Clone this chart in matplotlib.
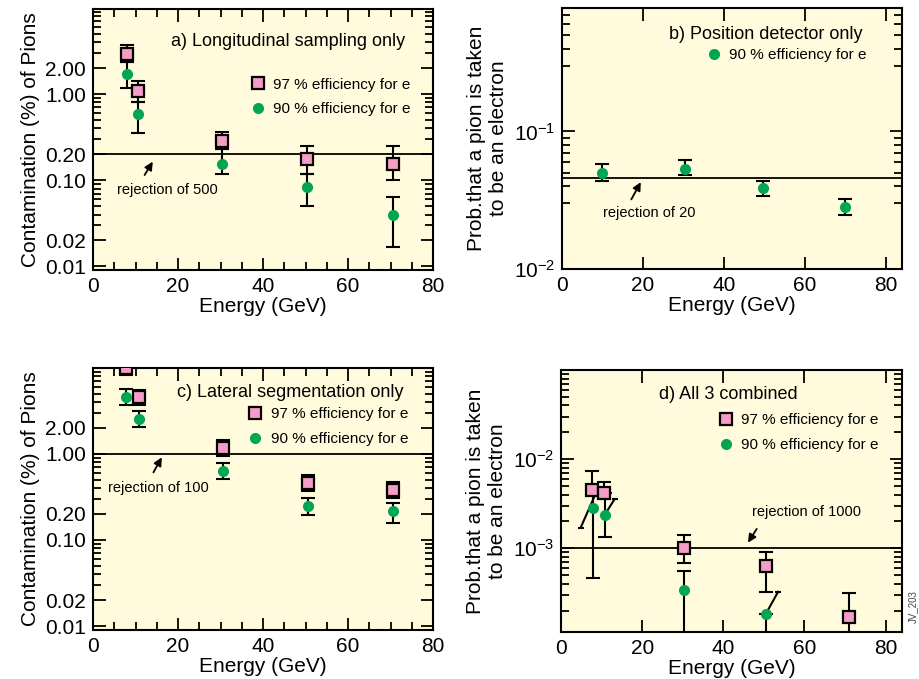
import matplotlib
matplotlib.use("Agg")
import matplotlib.pyplot as plt
from matplotlib.ticker import FixedLocator, FixedFormatter, NullFormatter
from matplotlib.lines import Line2D

plt.rcParams['font.family'] = ['Liberation Sans', 'DejaVu Sans']
plt.rcParams['mathtext.default'] = 'regular'

BG = '#FFFBDC'
PINK = '#F59DC6'
GREEN = '#00A651'

# a) longitudinal sampling only (contamination in %)
a_x = [8.0, 10.7, 30.4, 50.4, 70.6]
a_sq = [2.9, 1.08, 0.284, 0.175, 0.154]
a_sq_hi = [3.7, 1.42, 0.36, 0.25, 0.25]
a_sq_lo = [2.35, 0.81, 0.23, 0.117, 0.10]
a_ci = [1.71, 0.585, 0.154, 0.083, 0.040]
a_ci_hi = [2.35, 0.81, 0.23, 0.117, 0.064]
a_ci_lo = [1.17, 0.35, 0.117, 0.050, 0.0166]
a_line = 0.2

# b) position detector only (probability)
b_x = [10.0, 30.4, 49.6, 70.0]
b_ci = [0.0498, 0.0536, 0.0385, 0.0282]
b_ci_hi = [0.058, 0.0616, 0.044, 0.0323]
b_ci_lo = [0.044, 0.048, 0.034, 0.0248]
b_line = 0.046

# c) lateral segmentation only (contamination in %)
c_x = [7.8, 10.9, 30.5, 50.6, 70.6]
c_sq = [10.0, 4.56, 1.16, 0.456, 0.375]
c_sq_hi = [10.0, 5.55, 1.45, 0.57, 0.464]
c_sq_lo = [8.3, 3.71, 0.95, 0.365, 0.305]
c_ci = [4.56, 2.55, 0.634, 0.248, 0.215]
c_ci_hi = [5.65, 3.16, 0.78, 0.305, 0.267]
c_ci_lo = [3.65, 2.02, 0.507, 0.195, 0.159]
c_line = 1.0

# d) all 3 combined (probability)
d_sq_x = [7.6, 10.7, 30.4, 50.5, 71.0]
d_sq = [0.0045, 0.0042, 0.001, 0.000638, 0.00017]
d_sq_hi = [0.0074, 0.0055, 0.00142, 0.0009, 0.000317]
d_sq_lo = [0.0045, 0.0042, 0.000676, 0.000325, 0.00009]
d_ci_x = [7.8, 10.8, 30.4, 50.5]
d_ci = [0.0028, 0.00238, 0.000337, 0.000181]
d_ci_hi = [0.0045, 0.0042, 0.000559, 0.000181]
d_ci_lo = [0.00046, 0.00135, 0.00009, 0.00009]
d_line = 0.001
# slanted bars drawn in the original
d_seg_x0 = [8.55, 10.76, 50.4]
d_seg_y0 = [0.0041, 0.00237, 0.000181]
d_seg_x1 = [4.85, 13.2, 53.5]
d_seg_y1 = [0.0017, 0.00355, 0.000325]

fig = plt.figure(figsize=(9.19, 6.79), dpi=100)
axa = fig.add_axes([0.1012, 0.6024, 0.370, 0.3843])
axb = fig.add_axes([0.6115, 0.6038, 0.370, 0.3844])
axc = fig.add_axes([0.1012, 0.0722, 0.370, 0.3858])
axd = fig.add_axes([0.6104, 0.0692, 0.371, 0.3859])

eb = dict(ls='none', ecolor='black', elinewidth=1.5, capsize=5, capthick=1.5)
sq_style = dict(marker='s', ms=8.5, mfc=PINK, mec='black', mew=1.6)
ci_style = dict(marker='o', ms=8, mfc=GREEN, mec=GREEN, mew=0)


def err(v, lo, hi):
    return [[a - b for a, b in zip(v, lo)], [b - a for a, b in zip(v, hi)]]


def style(ax, ylim):
    ax.set_facecolor(BG)
    ax.set_yscale('log')
    ax.set_ylim(*ylim)
    for s in ax.spines.values():
        s.set_linewidth(1.5)
    ax.tick_params(which='both', direction='in', top=True, right=True,
                   labelsize=15, width=1.3, pad=5)
    ax.tick_params(which='major', length=9)
    ax.tick_params(which='minor', length=6)
    ax.set_xlabel('Energy (GeV)', fontsize=15, labelpad=1)


def contam_axis(ax):
    ax.set_xlim(0, 80)
    ax.xaxis.set_major_locator(FixedLocator([0, 20, 40, 60, 80]))
    ax.xaxis.set_minor_locator(FixedLocator(range(5, 80, 5)))
    ax.yaxis.set_major_locator(FixedLocator([0.01, 0.02, 0.1, 0.2, 1, 2]))
    ax.yaxis.set_major_formatter(FixedFormatter(['0.01', '0.02', '0.10', '0.20', '1.00', '2.00']))
    minors = [m * 10.0 ** e for e in (-2, -1, 0) for m in range(2, 10)]
    minors = [v for v in minors if round(v, 6) not in (0.02, 0.2, 2.0)]
    ax.yaxis.set_minor_locator(FixedLocator(minors))
    ax.yaxis.set_minor_formatter(NullFormatter())
    ax.set_ylabel('Contamination (%) of Pions', fontsize=15, labelpad=4)


def prob_axis(ax, majors, labels):
    ax.set_xlim(0, 84)
    ax.xaxis.set_major_locator(FixedLocator([0, 20, 40, 60, 80]))
    ax.xaxis.set_minor_locator(FixedLocator([]))
    ax.yaxis.set_major_locator(FixedLocator(majors))
    ax.yaxis.set_major_formatter(FixedFormatter(labels))
    ax.yaxis.set_minor_formatter(NullFormatter())
    ax.set_ylabel('Prob.that a pion is taken\nto be an electron', fontsize=15, labelpad=4)


def legend(ax, x, y, both=True):
    h = []
    if both:
        h.append(Line2D([], [], ls='none', **sq_style))
    h.append(Line2D([], [], ls='none', **ci_style))
    labs = (['97 % efficiency for e'] if both else []) + ['90 % efficiency for e']
    ax.legend(h, labs, loc='upper left', bbox_to_anchor=(x, y), frameon=False,
              fontsize=11, handlelength=1.0, handletextpad=0.5,
              labelspacing=0.7, borderpad=0, borderaxespad=0)


def arrow(ax, head, tail):
    ax.annotate('', xy=head, xytext=tail,
                arrowprops=dict(arrowstyle='-|>', color='black', lw=1.3, mutation_scale=12))


# panel a
style(axa, (0.0091, 9.7))
contam_axis(axa)
axa.axhline(a_line, color='black', lw=1.3)
axa.errorbar(a_x, a_sq, yerr=err(a_sq, a_sq_lo, a_sq_hi), zorder=3, **eb)
axa.errorbar(a_x, a_ci, yerr=err(a_ci, a_ci_lo, a_ci_hi), zorder=3, **eb)
axa.plot(a_x, a_sq, ls='none', zorder=4, **sq_style)
axa.plot(a_x, a_ci, ls='none', zorder=4, **ci_style)
axa.text(0.918, 0.874, 'a) Longitudinal sampling only', transform=axa.transAxes,
         ha='right', va='center', fontsize=13)
legend(axa, 0.462, 0.737)
arrow(axa, (14.4, 0.175), (11.8, 0.108))
axa.text(17.4, 0.0766, 'rejection of 500', ha='center', va='center', fontsize=10.5)

# panel b
style(axb, (0.01, 0.79))
prob_axis(axb, [0.01, 0.1], ['$10^{-2}$', '$10^{-1}$'])
axb.yaxis.set_minor_locator(FixedLocator([0.03, 0.04, 0.05, 0.06, 0.07, 0.08, 0.09,
                                          0.3, 0.4, 0.5, 0.6, 0.7]))
axb.axhline(b_line, color='black', lw=1.3)
axb.errorbar(b_x, b_ci, yerr=err(b_ci, b_ci_lo, b_ci_hi), zorder=3, **eb)
axb.plot(b_x, b_ci, ls='none', zorder=4, **ci_style)
axb.text(0.885, 0.90, 'b) Position detector only', transform=axb.transAxes,
         ha='right', va='center', fontsize=13)
legend(axb, 0.425, 0.847, both=False)
arrow(axb, (19.8, 0.0446), (16.8, 0.0308))
axb.text(21.6, 0.0257, 'rejection of 20', ha='center', va='center', fontsize=10.5)

# panel c
style(axc, (0.009, 9.9))
contam_axis(axc)
axc.axhline(c_line, color='black', lw=1.3)
axc.errorbar(c_x, c_sq, yerr=err(c_sq, c_sq_lo, c_sq_hi), zorder=3, **eb)
axc.errorbar(c_x, c_ci, yerr=err(c_ci, c_ci_lo, c_ci_hi), zorder=3, **eb)
axc.plot(c_x, c_sq, ls='none', zorder=4, **sq_style)
axc.plot(c_x, c_ci, ls='none', zorder=4, **ci_style)
axc.text(0.912, 0.908, 'c) Lateral segmentation only', transform=axc.transAxes,
         ha='right', va='center', fontsize=13)
legend(axc, 0.455, 0.85)
arrow(axc, (16.5, 0.97), (13.9, 0.57))
axc.text(15.3, 0.40, 'rejection of 100', ha='center', va='center', fontsize=10.5)

# panel d
style(axd, (1.15e-4, 0.1))
prob_axis(axd, [0.001, 0.01], ['$10^{-3}$', '$10^{-2}$'])
axd.axhline(d_line, color='black', lw=1.3)
axd.errorbar(d_sq_x, d_sq, yerr=err(d_sq, d_sq_lo, d_sq_hi), zorder=3, **eb)
axd.errorbar(d_ci_x, d_ci, yerr=err(d_ci, d_ci_lo, d_ci_hi), zorder=3, **eb)
for x0, y0, x1, y1 in zip(d_seg_x0, d_seg_y0, d_seg_x1, d_seg_y1):
    axd.plot([x0, x1], [y0, y1], color='black', lw=1.5, zorder=3)
    axd.plot([x1], [y1], marker='_', ms=5, mew=1.5, color='black', zorder=3)
axd.plot(d_sq_x, d_sq, ls='none', zorder=4, **sq_style)
axd.plot(d_ci_x, d_ci, ls='none', zorder=4, **ci_style)
axd.text(0.49, 0.908, 'd) All 3 combined', transform=axd.transAxes,
         ha='center', va='center', fontsize=13)
legend(axd, 0.462, 0.835)
arrow(axd, (45.7, 0.00109), (48.6, 0.00175))
axd.text(60.4, 0.00256, 'rejection of 1000', ha='center', va='center', fontsize=10.5)

fig.text(0.993, 0.106, 'JV_203', rotation=90, ha='center', va='center',
         fontsize=7, color='#444444')

fig.savefig('out.png', dpi=100, facecolor='white')
